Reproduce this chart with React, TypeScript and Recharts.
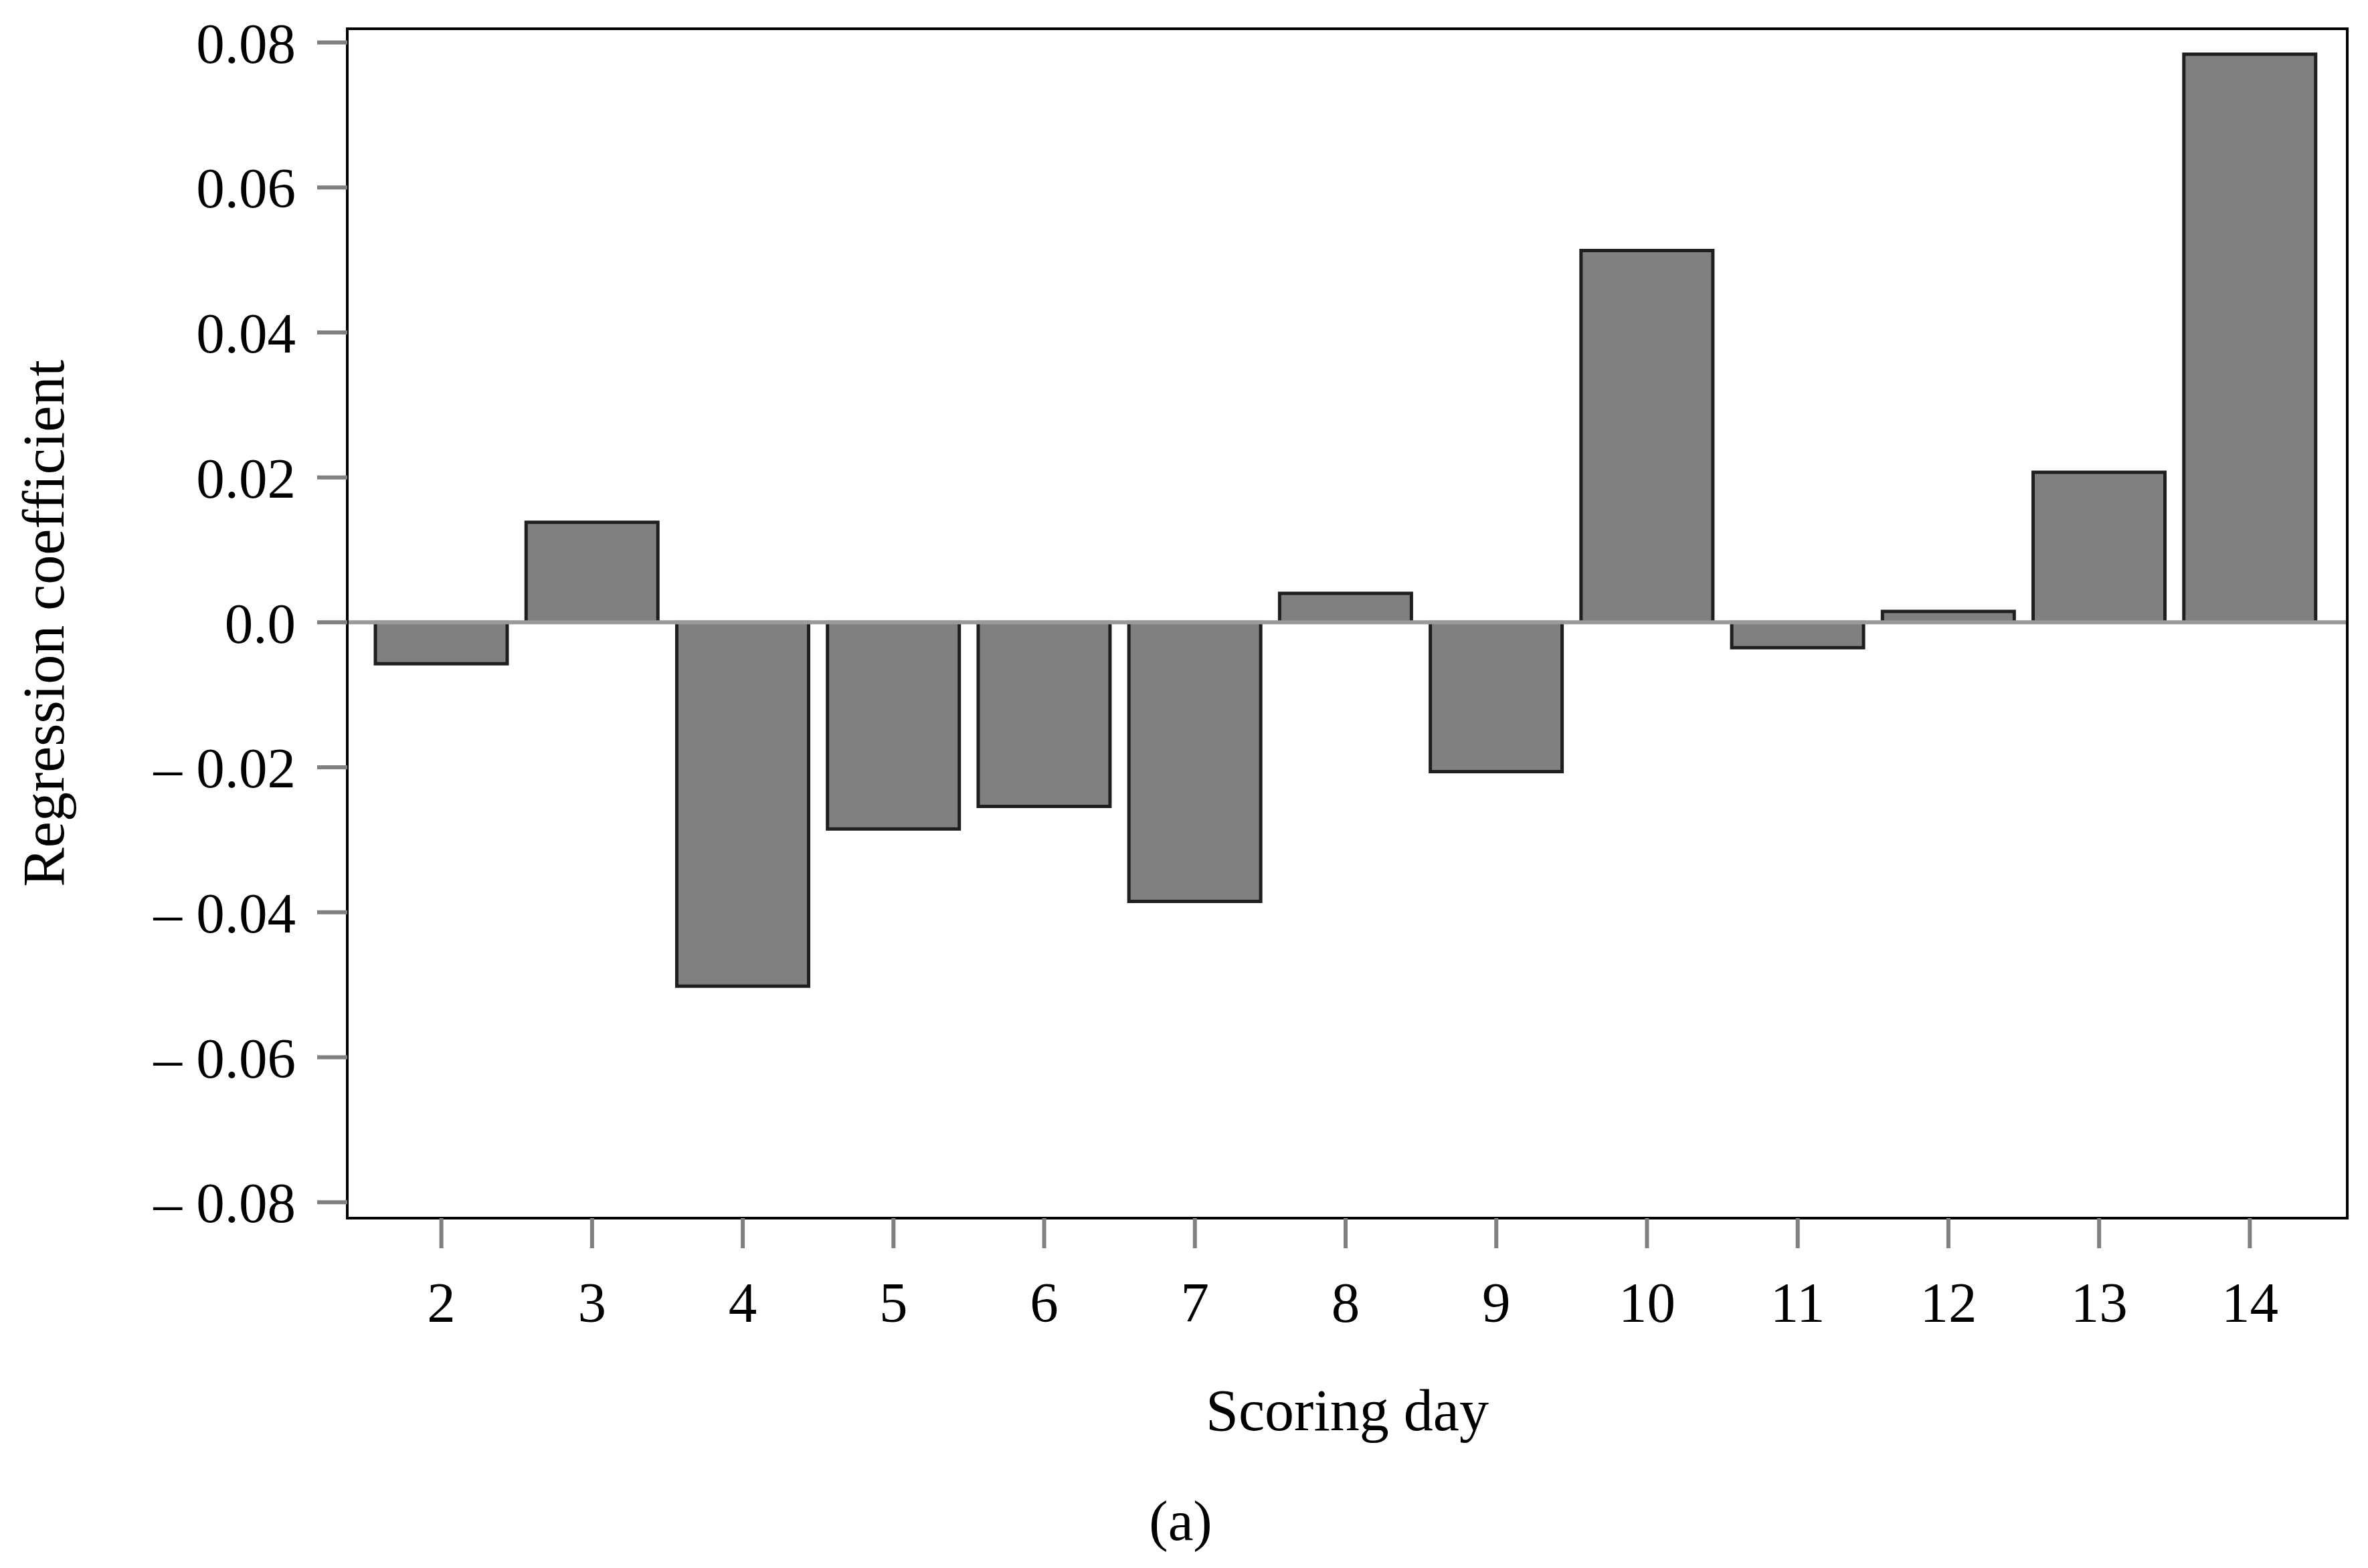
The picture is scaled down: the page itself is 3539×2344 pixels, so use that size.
import React from 'react';
import { BarChart, Bar, XAxis, YAxis, ReferenceLine, Label } from 'recharts';

const days = ['2', '3', '4', '5', '6', '7', '8', '9', '10', '11', '12', '13', '14'];
const coefficients = [-0.0057, 0.0138, -0.0502, -0.0285, -0.0254, -0.0385, 0.004, -0.0206, 0.0513, -0.0035, 0.0015, 0.0207, 0.0784];
const yTicks = [0.08, 0.06, 0.04, 0.02, 0, -0.02, -0.04, -0.06, -0.08];
const yTickLabels = ['0.08', '0.06', '0.04', '0.02', '0.0', '\u2013 0.02', '\u2013 0.04', '\u2013 0.06', '\u2013 0.08'];
const xAxisTitle = 'Scoring day';
const yAxisTitle = 'Regression coefficient';
const caption = '(a)';

const data = days.map((d, i) => ({ day: d, value: coefficients[i] }));

const FONT = '"Liberation Serif", "Times New Roman", serif';
const W = 3539;
const H = 2344;
const Y_DOMAIN: [number, number] = [-0.0822, 0.0819];

const fmtY = (v: number) => {
  const i = yTicks.findIndex((t) => Math.abs(t - v) < 1e-9);
  return i >= 0 ? yTickLabels[i] : String(v);
};

const XTitle = (props: any) => {
  const vb = props.viewBox || { x: 519, y: 1821, width: 2989, height: 200 };
  return (
    <g>
      <text x={vb.x + vb.width / 2} y={vb.y + 317} textAnchor="middle" fontFamily={FONT} fontSize={88} fill="#000">
        {xAxisTitle}
      </text>
      <text x={W / 2 - 5} y={vb.y + 481} textAnchor="middle" fontFamily={FONT} fontSize={85} fill="#000">
        {caption}
      </text>
    </g>
  );
};

const YTitle = (props: any) => {
  const vb = props.viewBox || { x: 0, y: 43, width: 519, height: 1778 };
  const cx = 95;
  const cy = vb.y + vb.height / 2;
  return (
    <text x={cx} y={cy} transform={`rotate(-90 ${cx} ${cy})`} textAnchor="middle" fontFamily={FONT} fontSize={88} fill="#000">
      {yAxisTitle}
    </text>
  );
};

const frameLine = { stroke: '#000', strokeWidth: 4, strokeLinecap: 'square' as const };

export default function App() {
  return (
    <div style={{ position: 'absolute', left: 0, top: 0, width: W, height: H, background: '#fff' }}>
      <BarChart width={W} height={H} data={data} margin={{ top: 42, right: 30, bottom: 323, left: 0 }} barSize={197}>
        <XAxis
          dataKey="day"
          height={200}
          interval={0}
          padding={{ left: 28, right: 33 }}
          axisLine={frameLine}
          tickLine={{ stroke: '#808080', strokeWidth: 6 }}
          tickSize={45}
          tickMargin={50}
          tick={{ fill: '#000', fontSize: 85, fontFamily: FONT }}
        >
          <Label content={XTitle} />
        </XAxis>
        <XAxis
          xAxisId="top"
          orientation="top"
          dataKey="day"
          height={1}
          tick={false}
          tickLine={false}
          axisLine={frameLine}
        />
        <YAxis
          width={519}
          domain={Y_DOMAIN}
          ticks={yTicks}
          interval={0}
          tickFormatter={fmtY}
          axisLine={frameLine}
          tickLine={{ stroke: '#808080', strokeWidth: 6 }}
          tickSize={45}
          tickMargin={32}
          tick={{ fill: '#000', fontSize: 85, fontFamily: FONT }}
        >
          <Label content={YTitle} />
        </YAxis>
        <YAxis
          yAxisId="right"
          orientation="right"
          width={1}
          domain={Y_DOMAIN}
          tick={false}
          tickLine={false}
          axisLine={frameLine}
        />
        <Bar dataKey="value" fill="#808080" stroke="#1f1f1f" strokeWidth={5} isAnimationActive={false} />
        <ReferenceLine y={0} stroke="#9a9a9a" strokeWidth={6} />
      </BarChart>
    </div>
  );
}
